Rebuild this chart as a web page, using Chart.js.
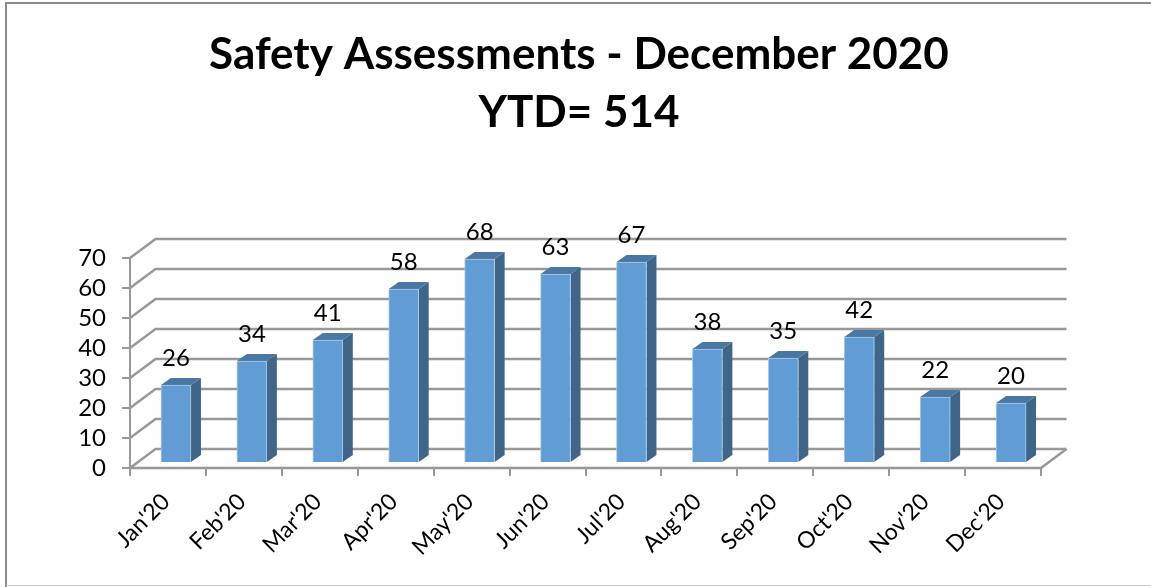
<!DOCTYPE html>
<html>
<head>
<meta charset="utf-8">
<style>html,body{margin:0;padding:0;background:#fff}#w{width:1151px;height:587px;position:relative}canvas{display:block}</style>
<script src="https://cdn.jsdelivr.net/npm/chart.js@4"></script>
</head>
<body>
<div id="w"><canvas id="c" width="1151" height="587"></canvas></div>
<script>
const categories = ["Jan'20","Feb'20","Mar'20","Apr'20","May'20","Jun'20","Jul'20","Aug'20","Sep'20","Oct'20","Nov'20","Dec'20"];
const assessments = [26,34,41,58,68,63,67,38,35,42,22,20];
const titleLines = ["Safety Assessments - December 2020","YTD= 514"];
const yTicks = [0,10,20,30,40,50,60,70];
const FONT = "Lato, 'Open Sans', sans-serif";
const GRID = '#989898';
const WALL = {dx:25.5, dy:-19};
const BAR_SHIFT = {dx:8, dy:-5};
const DEPTH = {dx:10, dy:-7};

const threeD = {
  id:'threeD',
  afterLayout(chart){
    chart.titleBlock.left = 7;
    chart.titleBlock.right = 1151;
  },
  beforeDraw(chart){
    const c = chart.ctx;
    c.save();
    c.fillStyle='#fff'; c.fillRect(0,0,chart.width,chart.height);
    c.strokeStyle='#8a8a8a'; c.lineWidth=2;
    c.beginPath(); c.moveTo(6,587); c.lineTo(6,3); c.lineTo(1151,3); c.stroke();
    c.strokeStyle='#c8c8c8'; c.lineWidth=1;
    c.beginPath(); c.moveTo(6,585.5); c.lineTo(1151,585.5); c.stroke();
    c.restore();
  },
  beforeDatasetsDraw(chart){
    const c = chart.ctx, y = chart.scales.y, a = chart.chartArea;
    c.save();
    c.strokeStyle=GRID; c.lineWidth=2.5;
    yTicks.forEach(v=>{
      const py = y.getPixelForValue(v);
      c.beginPath();
      c.moveTo(a.left,py);
      c.lineTo(a.left+WALL.dx,py+WALL.dy);
      c.lineTo(a.right+WALL.dx,py+WALL.dy);
      c.stroke();
    });
    const b = y.getPixelForValue(0);
    c.beginPath();
    c.moveTo(a.left,b); c.lineTo(a.right,b); c.lineTo(a.right+WALL.dx,b+WALL.dy);
    c.stroke();
    c.restore();
    c.save();
    c.translate(BAR_SHIFT.dx,BAR_SHIFT.dy);
    chart.getDatasetMeta(0).data.forEach(el=>{
      const w = el.width/2, l = el.x-w, r = el.x+w, t = el.y, bt = el.base;
      c.fillStyle='#3f6589';
      c.beginPath();
      c.moveTo(r,t); c.lineTo(r+DEPTH.dx,t+DEPTH.dy); c.lineTo(r+DEPTH.dx,bt+DEPTH.dy); c.lineTo(r,bt);
      c.closePath(); c.fill();
      c.fillStyle='#4a78a5';
      c.beginPath();
      c.moveTo(l,t); c.lineTo(l+DEPTH.dx,t+DEPTH.dy); c.lineTo(r+DEPTH.dx,t+DEPTH.dy); c.lineTo(r,t);
      c.closePath(); c.fill();
    });
  },
  afterDatasetsDraw(chart){
    const c = chart.ctx;
    c.restore();
    c.save();
    c.font = "24px "+FONT;
    c.fillStyle='#000';
    c.textAlign='center'; c.textBaseline='middle';
    chart.getDatasetMeta(0).data.forEach((el,i)=>{
      c.fillText(String(assessments[i]), el.x+BAR_SHIFT.dx, el.y+BAR_SHIFT.dy-27);
    });
    c.restore();
  }
};

new Chart(document.getElementById('c'),{
  type:'bar',
  data:{labels:categories,datasets:[{data:assessments,backgroundColor:'#619dd4',borderColor:'#a9cbe8',borderWidth:1,barThickness:30,clip:false}]},
  options:{
    responsive:false,animation:false,
    layout:{padding:{left:0,top:0,right:110,bottom:0}},
    plugins:{
      legend:{display:false},tooltip:{enabled:false},
      title:{display:true,text:titleLines,color:'#000',align:'center',
        font:{family:FONT,size:44,weight:'bold',lineHeight:58/44},
        padding:{top:26,bottom:116}}
    },
    scales:{
      x:{
        afterFit(s){s.height=119;},
        grid:{drawOnChartArea:false,drawTicks:true,tickLength:8,color:GRID,lineWidth:2,offset:true},
        border:{display:false},
        ticks:{color:'#000',font:{family:FONT,size:23},minRotation:45,maxRotation:45,padding:12,labelOffset:-2,autoSkip:false}
      },
      y:{
        min:0,max:70,
        afterFit(s){s.width=130;},
        afterBuildTicks(s){s.ticks=yTicks.map(v=>({value:v}));},
        grid:{drawOnChartArea:false,drawTicks:true,tickLength:8,color:GRID,lineWidth:2},
        border:{display:true,color:GRID,width:2},
        ticks:{color:'#000',font:{family:FONT,size:24},padding:16,autoSkip:false}
      }
    }
  },
  plugins:[threeD]
});
</script>
</body>
</html>
